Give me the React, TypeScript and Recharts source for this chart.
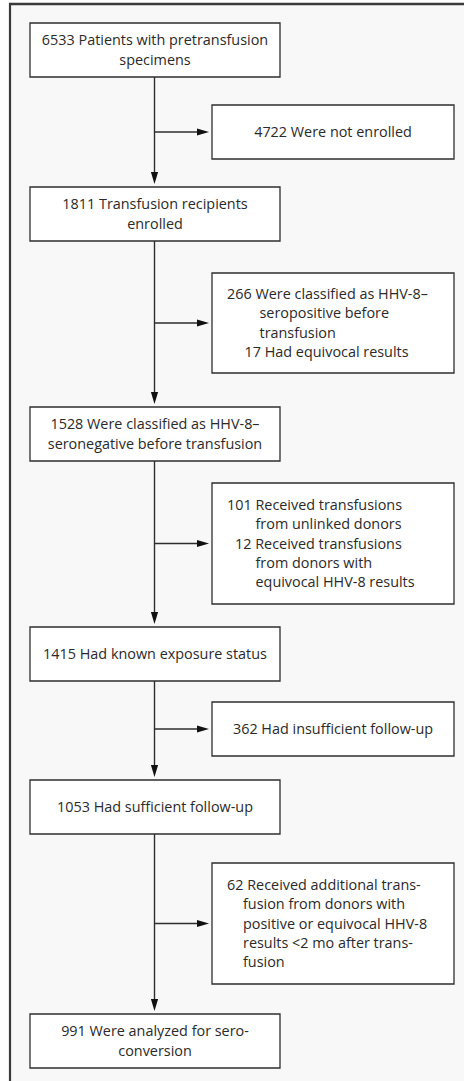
import React from "react";
import {
  ComposedChart,
  XAxis,
  YAxis,
  ReferenceArea,
  ReferenceLine,
  ReferenceDot,
} from "recharts";

// ---- content ----
const mainCounts = [6533, 1811, 1528, 1415, 1053, 991];
const mainLabels: string[][] = [
  ["6533 Patients with pretransfusion", "specimens"],
  ["1811 Transfusion recipients", "enrolled"],
  ["1528 Were classified as HHV-8–", "seronegative before transfusion"],
  ["1415 Had known exposure status"],
  ["1053 Had sufficient follow-up"],
  ["991 Were analyzed for sero-", "conversion"],
];
const excludedCounts = [4722, 283, 113, 362, 62];
const excludedLabels: string[][] = [
  ["4722 Were not enrolled"],
  ["266 Were classified as HHV-8–", "seropositive before", "transfusion", "17 Had equivocal results"],
  [
    "101 Received transfusions",
    "from unlinked donors",
    "12 Received transfusions",
    "from donors with",
    "equivocal HHV-8 results",
  ],
  ["362 Had insufficient follow-up"],
  [
    "62 Received additional trans-",
    "fusion from donors with",
    "positive or equivocal HHV-8",
    "results <2 mo after trans-",
    "fusion",
  ],
];

// ---- layout (chart units = pixels of the figure) ----
const W = 464;
const H = 1081;
const MAIN_X1 = 30;
const MAIN_X2 = 280;
const MAIN_CX = 155;
const MAIN_H = 54;
const mainTops = [23, 187, 407, 627, 780, 1014];
const SIDE_X1 = 212;
const SIDE_X2 = 454;
const sideSpans: [number, number][] = [
  [105, 159],
  [273, 373],
  [483, 604],
  [702, 756],
  [863, 984],
];
// left offsets inside excluded boxes (null = centered)
const sideIndents: (number[] | null)[] = [
  null,
  [15, 47.5, 47.5, 32.5],
  [15, 43.5, 23, 43.5, 43.5],
  null,
  [15, 31, 31, 31, 31],
];
const LINE_H = 19.4;
const STROKE = "#2e2e2e";
const TEXT = "#2a2a2a";
const FONT = "'Open Sans', sans-serif";

type LabelProps = {
  viewBox?: { x: number; y: number; width: number; height: number };
  lines: string[];
  indents: number[] | null;
};

const BoxLabel = ({ viewBox, lines, indents }: LabelProps) => {
  if (!viewBox) return null;
  const { x, y, width, height } = viewBox;
  const cy = y + height / 2;
  const n = lines.length;
  return (
    <text
      fontFamily={FONT}
      fontSize={14.4}
      fill={TEXT}
      textAnchor={indents ? "start" : "middle"}
    >
      {lines.map((l, i) => (
        <tspan
          key={i}
          x={indents ? x + indents[i] : x + width / 2}
          y={cy + (i - (n - 1) / 2) * LINE_H}
          dy="0.36em"
        >
          {l}
        </tspan>
      ))}
    </text>
  );
};

const ArrowDown = (props: any) => {
  const { cx, cy } = props;
  return (
    <polygon
      points={`${cx},${cy} ${cx - 3.6},${cy - 12} ${cx + 3.6},${cy - 12}`}
      fill="#111"
    />
  );
};
const ArrowRight = (props: any) => {
  const { cx, cy } = props;
  return (
    <polygon
      points={`${cx},${cy} ${cx - 12},${cy - 3.6} ${cx - 12},${cy + 3.6}`}
      fill="#111"
    />
  );
};

export default function App() {
  return (
    <div style={{ position: "absolute", left: 0, top: 0, background: "#fff" }}>
      <ComposedChart
        width={W}
        height={H}
        data={[{ x: 0, y: 0 }]}
        margin={{ top: 0, right: 0, bottom: 0, left: 0 }}
      >
        <XAxis type="number" dataKey="x" domain={[0, W]} hide allowDataOverflow />
        <YAxis type="number" dataKey="y" domain={[0, H]} reversed hide allowDataOverflow />
        {/* panel background and frame */}
        <ReferenceArea x1={10} x2={W} y1={4} y2={H} fill="#f8f8f8" fillOpacity={1} stroke="none" ifOverflow="visible" />
        <ReferenceLine segment={[{ x: 9, y: 4 }, { x: W, y: 4 }]} stroke="#3a3a3a" strokeWidth={2.4} ifOverflow="visible" />
        <ReferenceLine segment={[{ x: 10, y: 3 }, { x: 10, y: H }]} stroke="#3a3a3a" strokeWidth={2.2} ifOverflow="visible" />

        {/* vertical connectors */}
        {mainTops.slice(0, -1).map((t, i) => (
          <ReferenceLine
            key={`v${i}`}
            segment={[
              { x: MAIN_CX - 0.5, y: t + MAIN_H },
              { x: MAIN_CX - 0.5, y: mainTops[i + 1] - 10 },
            ]}
            stroke={STROKE}
            strokeWidth={1.4}
            ifOverflow="visible"
          />
        ))}
        {/* horizontal branches */}
        {sideSpans.map(([a, b], i) => (
          <ReferenceLine
            key={`h${i}`}
            segment={[
              { x: MAIN_CX - 0.5, y: (a + b) / 2 },
              { x: SIDE_X1 - 8, y: (a + b) / 2 },
            ]}
            stroke={STROKE}
            strokeWidth={1.4}
            ifOverflow="visible"
          />
        ))}
        {mainTops.slice(1).map((t, i) => (
          <ReferenceDot key={`ad${i}`} x={MAIN_CX - 0.5} y={t - 3} r={1} shape={ArrowDown} ifOverflow="visible" />
        ))}
        {sideSpans.map(([a, b], i) => (
          <ReferenceDot key={`ar${i}`} x={SIDE_X1 - 3} y={(a + b) / 2} r={1} shape={ArrowRight} ifOverflow="visible" />
        ))}

        {/* main boxes */}
        {mainTops.map((t, i) => (
          <ReferenceArea
            key={`m${mainCounts[i]}`}
            x1={MAIN_X1}
            x2={MAIN_X2}
            y1={t}
            y2={t + MAIN_H}
            fill="#fff"
            fillOpacity={1}
            stroke={STROKE}
            strokeWidth={1.3}
            ifOverflow="visible"
            label={<BoxLabel lines={mainLabels[i]} indents={null} />}
          />
        ))}
        {/* excluded boxes */}
        {sideSpans.map(([a, b], i) => (
          <ReferenceArea
            key={`s${excludedCounts[i]}`}
            x1={SIDE_X1}
            x2={SIDE_X2}
            y1={a}
            y2={b}
            fill="#fff"
            fillOpacity={1}
            stroke={STROKE}
            strokeWidth={1.3}
            ifOverflow="visible"
            label={<BoxLabel lines={excludedLabels[i]} indents={sideIndents[i]} />}
          />
        ))}
      </ComposedChart>
    </div>
  );
}
